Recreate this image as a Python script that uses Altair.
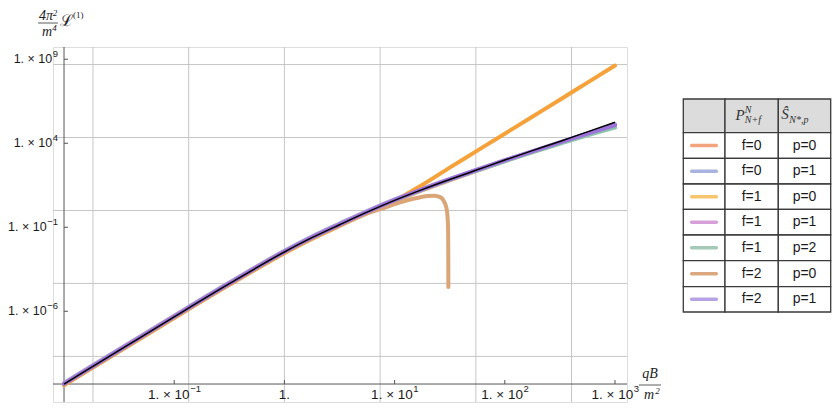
import altair as alt
import pandas as pd

# ---------------- data (log10 exponents) ----------------
LOGB = [-2.0, -1.5, -1.0, -0.5, 0.0, 0.25, 0.5, 0.75, 1.0, 1.25, 1.5, 1.75, 2.0, 2.25, 2.5, 2.75, 3.0]
EXACT = [-10.33, -8.33, -6.33, -4.36, -2.47, -1.62, -0.85, -0.10, 0.60, 1.24, 1.84, 2.42, 3.00, 3.56, 4.11, 4.68, 5.25]
F0P0 = [-10.38, -8.38, -6.38, -4.41, -2.52, -1.67, -0.90, -0.15, 0.55, 1.19, 1.79, 2.37, 2.94, 3.49, 4.03, 4.58, 5.12]
F0P1 = [-10.26, -8.26, -6.26, -4.29, -2.40, -1.55, -0.78, -0.03, 0.66, 1.29, 1.88, 2.44, 2.99, 3.52, 4.05, 4.58, 5.12]
F1P0 = [-10.40, -8.40, -6.40, -4.43, -2.54, -1.69, -0.92, -0.16, 0.57, 1.52, 2.55, 3.56, 4.57, 5.58, 6.59, 7.61, 8.63]
F1P1 = [-10.30, -8.30, -6.30, -4.33, -2.44, -1.59, -0.82, -0.07, 0.63, 1.26, 1.85, 2.41, 2.96, 3.49, 4.01, 4.53, 5.04]
F1P2 = [-10.33, -8.33, -6.33, -4.36, -2.47, -1.62, -0.85, -0.10, 0.60, 1.23, 1.82, 2.38, 2.93, 3.46, 3.97, 4.47, 4.93]
F2P1 = [-10.32, -8.32, -6.32, -4.35, -2.46, -1.61, -0.84, -0.09, 0.61, 1.25, 1.85, 2.42, 2.98, 3.52, 4.05, 4.57, 5.08]
LOGB_F2P0 = [-2.0, -1.5, -1.0, -0.5, 0.0, 0.25, 0.5, 0.6, 0.7, 0.8, 0.9, 1.0, 1.1, 1.2, 1.3,
             1.36, 1.40, 1.43, 1.455, 1.47, 1.48, 1.485, 1.487, 1.488]
F2P0 = [-10.33, -8.33, -6.33, -4.36, -2.47, -1.62, -0.86, -0.57, -0.30, -0.06, 0.14, 0.38, 0.58, 0.74, 0.86,
        0.88, 0.83, 0.72, 0.45, 0.15, -0.35, -1.0, -2.2, -4.55]

GRID_X = [0.01832, 0.1353, 1.0, 7.389, 54.60, 403.4]
GRID_Y = [2.061e-9, 4.540e-5, 1.0, 2.203e4, 4.852e8]
XTICKS = [0.1, 1, 10, 100, 1000]
XEXP = ["−1", "", "1", "2", "3"]
YTICKS = [1e9, 1e4, 1e-1, 1e-6]
YEXP = ["9", "4", "−1", "−6"]
AX_ORIGIN = [0.01, 10 ** -10.33]

NAMES = ["f=0 p=0", "f=0 p=1", "f=1 p=0", "f=1 p=1", "f=1 p=2", "f=2 p=0", "f=2 p=1"]
F_LABELS = ["f=0", "f=0", "f=1", "f=1", "f=1", "f=2", "f=2"]
P_LABELS = ["p=0", "p=1", "p=0", "p=1", "p=2", "p=0", "p=1"]

LINE_COLORS = ["#F0A070", "#9AA4DC", "#F5A23A", "#CC8FD4", "#8EC4AE", "#DBA677", "#9D72DA"]
SWATCH_COLORS = ["#F2A57D", "#A9B3E0", "#F7C46F", "#D7A0D9", "#A3C9B8", "#D9A87E", "#B5A3E3"]

# ---------------- layout ----------------
W, H = 574, 355
FONT = "Liberation Sans"
SERIF = "Liberation Serif"
XB_FS, YB_FS, EXP_FS = 13.5, 12.5, 9.5
# approximate Liberation Sans advance widths (em)
ADV = {".": 0.278, " ": 0.278, "×": 0.584, "−": 0.584}


def width(s, fs):
    return sum(ADV.get(ch, 0.556) for ch in s) * fs


xs = alt.Scale(type="log", domain=[10 ** -2.1, 10 ** 3.109], nice=False)
ys = alt.Scale(type="log", domain=[10 ** -11.40, 10 ** 9.73], nice=False)


def X(f):
    return alt.X(f, type="quantitative", scale=xs, axis=None)


def Y(f):
    return alt.Y(f, type="quantitative", scale=ys, axis=None)


series_x = {n: LOGB for n in NAMES}
series_x["f=2 p=0"] = LOGB_F2P0
series_y = dict(zip(NAMES, [F0P0, F0P1, F1P0, F1P1, F1P2, F2P0, F2P1]))

layers = []
layers.append(alt.Chart(pd.DataFrame({"g": GRID_X})).mark_rule(color="#c6c6c6", strokeWidth=1).encode(x=X("g")))
layers.append(alt.Chart(pd.DataFrame({"g": GRID_Y})).mark_rule(color="#c6c6c6", strokeWidth=1).encode(y=Y("g")))
layers.append(alt.Chart(pd.DataFrame({"b": [AX_ORIGIN[0]]})).mark_rule(color="#555", strokeWidth=1).encode(x=X("b")))
layers.append(alt.Chart(pd.DataFrame({"v": [AX_ORIGIN[1]]})).mark_rule(color="#555", strokeWidth=1).encode(y=Y("v")))

for name, col in zip(NAMES, LINE_COLORS):
    d = pd.DataFrame({"b": [10 ** v for v in series_x[name]], "v": [10 ** v for v in series_y[name]]})
    layers.append(alt.Chart(d).mark_line(strokeWidth=4, interpolate="monotone", strokeCap="round",
                                         color=col).encode(x=X("b"), y=Y("v")))

dex = pd.DataFrame({"b": [10 ** v for v in LOGB], "v": [10 ** v for v in EXACT]})
layers.append(alt.Chart(dex).mark_line(strokeWidth=1.5, interpolate="monotone", color="black").encode(x=X("b"), y=Y("v")))

# ticks (inside)
layers.append(alt.Chart(pd.DataFrame({"b": XTICKS})).mark_rule(color="#555").encode(
    x=X("b"), y=alt.value(337), y2=alt.value(333)))
layers.append(alt.Chart(pd.DataFrame({"v": YTICKS})).mark_rule(color="#555").encode(
    y=Y("v"), x=alt.value(11), x2=alt.value(15)))

# tick labels: base text + raised exponent
LBL = dict(font=FONT, color="#1a1a1a")
XBASE_Y, XEXP_Y = 352, 345
for b, e in zip(XTICKS, XEXP):
    d = pd.DataFrame({"b": [b]})
    if e == "":
        layers.append(alt.Chart(d.assign(t="1.")).mark_text(align="center", baseline="alphabetic",
                                                            fontSize=XB_FS, **LBL)
                      .encode(x=X("b"), y=alt.value(XBASE_Y), text="t:N"))
        continue
    base = "1. × 10"
    wb, we = width(base, XB_FS), width(e, EXP_FS)
    off = (wb + we) / 2 - we
    layers.append(alt.Chart(d.assign(t=base)).mark_text(align="right", baseline="alphabetic", fontSize=XB_FS,
                                                        dx=off, **LBL)
                  .encode(x=X("b"), y=alt.value(XBASE_Y), text="t:N"))
    layers.append(alt.Chart(d.assign(t=e)).mark_text(align="left", baseline="alphabetic", fontSize=EXP_FS,
                                                     dx=off + 0.5, **LBL)
                  .encode(x=X("b"), y=alt.value(XEXP_Y), text="t:N"))

for v, e in zip(YTICKS, YEXP):
    d = pd.DataFrame({"v": [v]})
    we = width(e, EXP_FS)
    right = 5
    layers.append(alt.Chart(d.assign(t="1. × 10")).mark_text(align="right", baseline="middle", fontSize=YB_FS,
                                                             **LBL)
                  .encode(y=Y("v"), x=alt.value(right - we - 0.5), text="t:N"))
    layers.append(alt.Chart(d.assign(t=e)).mark_text(align="right", baseline="middle", fontSize=EXP_FS,
                                                     dy=-5, **LBL)
                  .encode(y=Y("v"), x=alt.value(right), text="t:N"))


# axis titles (fractions)
def txt(s, x, y, size=13, align="center", style="italic", font=SERIF):
    return alt.Chart(pd.DataFrame({"t": [s]})).mark_text(align=align, baseline="middle", font=font, fontSize=size,
                                                          fontStyle=style, color="#222").encode(
        x=alt.value(x), y=alt.value(y), text="t:N")


def bar(x0, x1, y):
    return alt.Chart(pd.DataFrame({"t": [0]})).mark_rule(color="#333", strokeWidth=0.8).encode(
        x=alt.value(x0), x2=alt.value(x1), y=alt.value(y))


layers += [txt("4π", -7, -31, size=14), txt("2", 2, -34.5, size=9),
           bar(-15, 5, -24),
           txt("m", -6, -15, size=14), txt("4", 1.5, -19, size=9),
           txt("ℒ", 13, -26, size=16, style="normal", font="DejaVu Serif"),
           txt("(1)", 20, -32, size=9, align="left", style="normal"),
           txt("qB", 597, 327, size=14), bar(586, 608, 338),
           txt("m", 596, 348, size=14), txt("2", 604.5, 343.5, size=9)]

main = alt.layer(*layers)

# ---------------- legend table ----------------
COL_EDGES = [0, 41.7, 95, 147.4]
ROW_EDGES = [0, 33.7, 59.3, 85, 110.3, 136, 161.7, 187.7, 213]
lxs = alt.Scale(domain=[0, 147.4], range=[630.3, 777.7])
lys = alt.Scale(domain=[0, 213], range=[52, 265])


def LX(f):
    return alt.X(f, type="quantitative", scale=lxs, axis=None)


def LY(f):
    return alt.Y(f, type="quantitative", scale=lys, axis=None)


cells = []
for r in range(8):
    for c in range(3):
        cells.append({"x0": COL_EDGES[c], "x1": COL_EDGES[c + 1], "y0": ROW_EDGES[r], "y1": ROW_EDGES[r + 1],
                      "fill": "#dcdcdc" if r == 0 else "#ffffff"})
cells = pd.DataFrame(cells)
rect = alt.Chart(cells).mark_rect(stroke="#3a3a3a", strokeWidth=1.3).encode(
    x=LX("x0"), x2="x1:Q", y=LY("y0"), y2="y1:Q", fill=alt.Fill("fill:N", scale=None))

rows = pd.DataFrame({
    "s": NAMES, "f": F_LABELS, "p": P_LABELS,
    "yc": [(ROW_EDGES[i + 1] + ROW_EDGES[i + 2]) / 2 for i in range(7)],
    "sx0": [8.4] * 7, "sx1": [33.0] * 7,
    "fx": [(COL_EDGES[1] + COL_EDGES[2]) / 2] * 7,
    "px": [(COL_EDGES[2] + COL_EDGES[3]) / 2] * 7,
})
sw = alt.Chart(rows).mark_rule(strokeWidth=3.5, strokeCap="round").encode(
    x=LX("sx0"), x2="sx1:Q", y=LY("yc"),
    color=alt.Color("s:N", scale=alt.Scale(domain=NAMES, range=SWATCH_COLORS), legend=None))
ft = alt.Chart(rows).mark_text(font=FONT, fontSize=14, color="#1a1a1a", baseline="middle").encode(
    x=LX("fx"), y=LY("yc"), text="f:N")
pt = alt.Chart(rows).mark_text(font=FONT, fontSize=14, color="#1a1a1a", baseline="middle").encode(
    x=LX("px"), y=LY("yc"), text="p:N")

hbig = pd.DataFrame({"x": [56.7, 101.8], "y": [16, 15], "t": ["P", "Ŝ"]})
hsmall = pd.DataFrame({"x": [61.5, 61.5, 106.0], "y": [10.5, 21, 21], "t": ["N", "N+f", "N*,p"]})
hb = alt.Chart(hbig).mark_text(font=SERIF, fontStyle="italic", fontSize=15, color="#333", baseline="middle").encode(
    x=LX("x"), y=LY("y"), text="t:N")
hs = alt.Chart(hsmall).mark_text(font=SERIF, fontStyle="italic", fontSize=10, color="#333", baseline="middle",
                                 align="left").encode(x=LX("x"), y=LY("y"), text="t:N")

legend = alt.layer(rect, sw, ft, pt, hb, hs)

chart = alt.layer(main, legend).resolve_scale(
    x="independent", y="independent", color="independent"
).properties(
    width=W, height=H,
    autosize=alt.AutoSizeParams(type="none"),
    padding={"left": 45, "top": 39, "right": 205, "bottom": 2},
).configure_view(stroke=None).configure(background="white")

chart.save("out.html", embed_options={"renderer": "svg", "actions": False})
